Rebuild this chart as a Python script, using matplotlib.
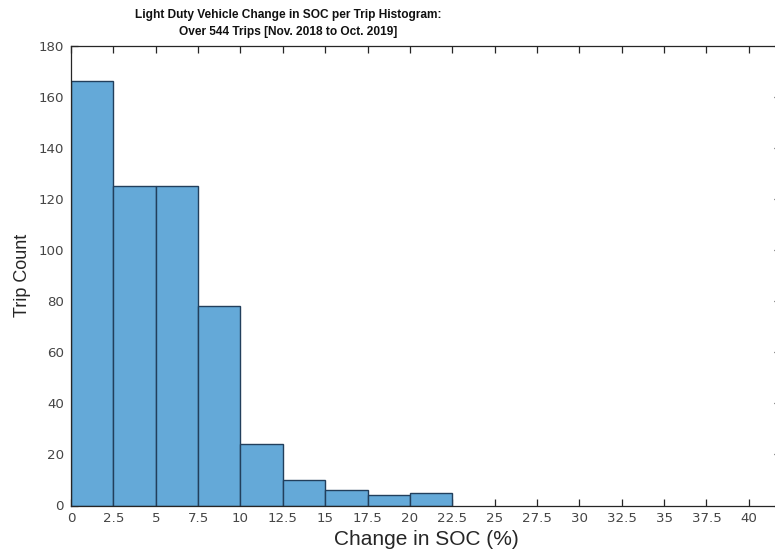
import numpy as np
import matplotlib
matplotlib.use("Agg")
import matplotlib.pyplot as plt

# Histogram of per-trip change in state of charge
bin_edges = [0, 2.5, 5, 7.5, 10, 12.5, 15, 17.5, 20, 22.5]
trip_counts = [166, 125, 125, 78, 24, 10, 6, 4, 5]
x_ticks = [0, 2.5, 5, 7.5, 10, 12.5, 15, 17.5, 20, 22.5, 25, 27.5, 30, 32.5, 35, 37.5, 40]
x_tick_labels = ["0", "2.5", "5", "7.5", "10", "12.5", "15", "17.5", "20", "22.5",
                 "25", "27.5", "30", "32.5", "35", "37.5", "40"]
y_ticks = [0, 20, 40, 60, 80, 100, 120, 140, 160, 180]

plt.rcParams["font.family"] = ["Liberation Sans", "DejaVu Sans"]

fig = plt.figure(figsize=(7.75, 5.5), dpi=100)
ax = fig.add_axes([71 / 775, 44.5 / 550, (781 - 71) / 775, (505.5 - 45.7) / 550])

edges = np.array(bin_edges)
ax.bar(edges[:-1], trip_counts, width=np.diff(edges), align="edge",
       color="#64a9d8", edgecolor="#223f5c", linewidth=1.0, zorder=2)

ax.set_xlim(0, 41.9)
ax.set_ylim(0, 180)
ax.set_xticks(x_ticks)
ax.set_xticklabels(x_tick_labels)
ax.set_yticks(y_ticks)

axis_grey = "#262626"
for s in ax.spines.values():
    s.set_color(axis_grey)
    s.set_linewidth(0.9)
    s.set_zorder(3)
ax.tick_params(direction="in", length=5, width=0.9, color=axis_grey,
               labelcolor="#454545", labelsize=9.6, top=True, right=True, pad=5)
for lbl in ax.get_xticklabels() + ax.get_yticklabels():
    lbl.set_family("DejaVu Sans")

ax.set_xlabel("Change in SOC (%)", fontsize=15, color="#262626", labelpad=3)
ax.set_ylabel("Trip Count", fontsize=13, color="#262626", labelpad=5)

fig.text(288 / 775, 1 - 15 / 550, "Light Duty Vehicle Change in SOC per Trip Histogram:",
         ha="center", va="center", fontsize=8.6, fontweight="bold", color="#111111")
fig.text(288 / 775, 1 - 32 / 550, "Over 544 Trips [Nov. 2018 to Oct. 2019]",
         ha="center", va="center", fontsize=8.6, fontweight="bold", color="#111111")

fig.savefig("out.png", dpi=100)
